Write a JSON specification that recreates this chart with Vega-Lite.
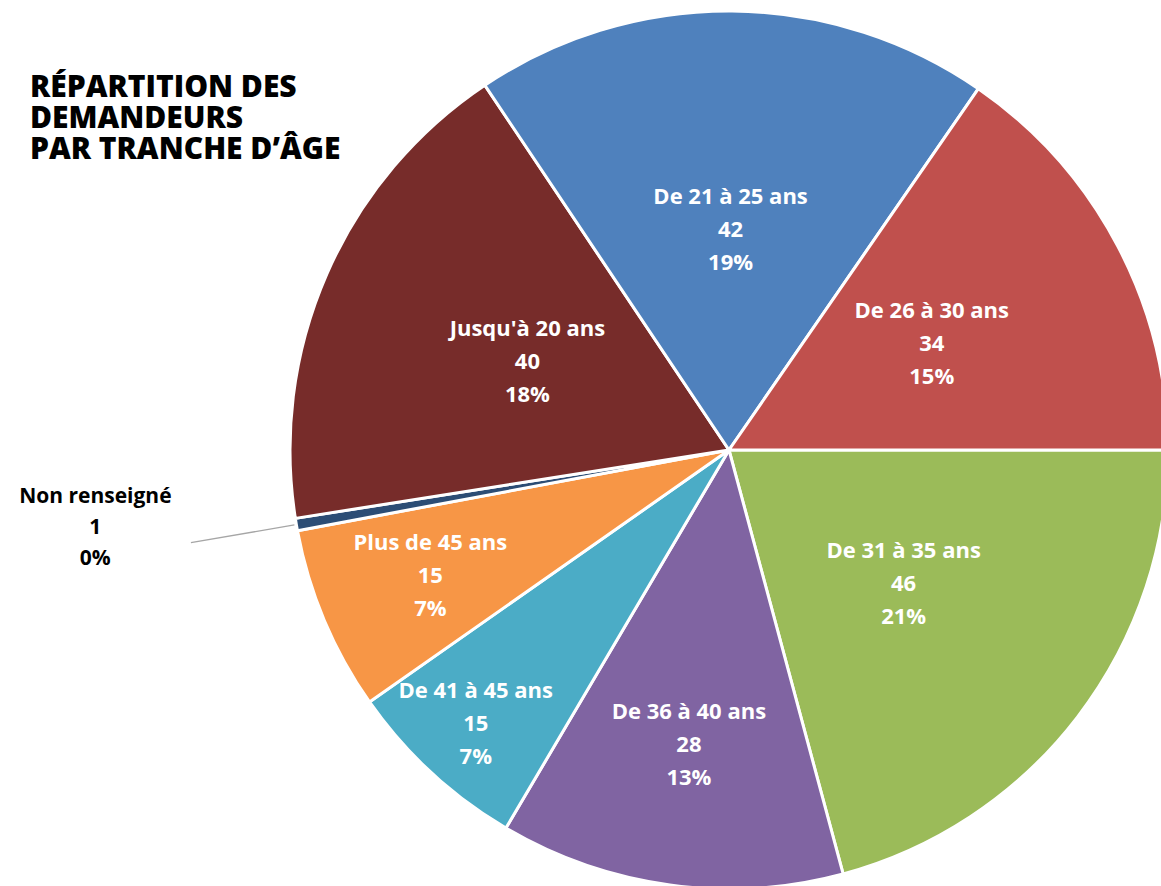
{
  "$schema": "https://vega.github.io/schema/vega-lite/v6.json",
  "width": 1458,
  "height": 900,
  "autosize": {"type": "none"},
  "padding": {"left": 0, "top": 0, "right": -297, "bottom": -14},
  "background": "white",
  "view": {"stroke": null},
  "title": {
    "text": ["RÉPARTITION DES", "DEMANDEURS", "PAR TRANCHE D’ÂGE"],
    "anchor": "start",
    "frame": "group",
    "orient": "top",
    "offset": 0,
    "baseline": "top",
    "dx": 30,
    "dy": 165,
    "font": "Open Sans",
    "fontSize": 30,
    "fontWeight": 800,
    "color": "#000000",
    "lineHeight": 31
  },
  "data": {
    "values": [
      {"tranche": "De 31 à 35 ans", "n": 46},
      {"tranche": "De 36 à 40 ans", "n": 28},
      {"tranche": "De 41 à 45 ans", "n": 15},
      {"tranche": "Plus de 45 ans", "n": 15},
      {"tranche": "Non renseigné", "n": 1},
      {"tranche": "Jusqu'à 20 ans", "n": 40},
      {"tranche": "De 21 à 25 ans", "n": 42},
      {"tranche": "De 26 à 30 ans", "n": 34}
    ]
  },
  "transform": [
    {"window": [{"op": "row_number", "as": "i"}, {"op": "sum", "field": "n", "as": "cum"}], "frame": [null, 0]},
    {"joinaggregate": [{"op": "sum", "field": "n", "as": "total"}]},
    {"calculate": "datum.cum - datum.n", "as": "start"},
    {"calculate": "datum.cum - datum.n / 2", "as": "mid"},
    {"calculate": "datum.tranche + '\\n' + datum.n + '\\n' + format(datum.n / datum.total, '.0%')", "as": "lbl"}
  ],
  "layer": [
    {
      "mark": {"type": "arc", "outerRadius": 439, "stroke": "white", "strokeWidth": 3},
      "encoding": {
        "theta": {"field": "cum", "type": "quantitative", "scale": {"nice": false, "zero": true, "range": [1.5707963, 7.8539816]}},
        "theta2": {"field": "start"},
        "color": {
          "field": "tranche",
          "type": "nominal",
          "legend": null,
          "scale": {
            "domain": ["De 31 à 35 ans", "De 36 à 40 ans", "De 41 à 45 ans", "Plus de 45 ans", "Non renseigné", "Jusqu'à 20 ans", "De 21 à 25 ans", "De 26 à 30 ans"],
            "range": ["#9BBB59", "#8064A2", "#4BACC6", "#F79646", "#2C4D75", "#772C2A", "#4F81BD", "#C0504D"]
          }
        }
      }
    },
    {
      "transform": [{"filter": "datum.tranche === 'Non renseigné'"}],
      "mark": {"type": "arc", "innerRadius": 441, "outerRadius": 546, "fill": null, "stroke": "#A6A6A6", "strokeWidth": 1.3},
      "encoding": {
        "theta": {"field": "mid", "type": "quantitative"},
        "theta2": {"field": "mid"}
      }
    },
    {
      "transform": [
        {"filter": "datum.tranche !== 'Non renseigné'"},
        {"calculate": "datum.tranche === 'De 36 à 40 ans' ? 298 : datum.tranche === 'De 41 à 45 ans' ? 373 : datum.tranche === 'Plus de 45 ans' ? 324 : datum.tranche === 'De 26 à 30 ans' ? 229 : 220", "as": "lr"}
      ],
      "mark": {"type": "text", "fill": "white", "font": "Open Sans", "fontSize": 22, "fontWeight": "bold", "lineHeight": 33, "lineBreak": "\n", "align": "center", "baseline": "middle", "dy": -33},
      "encoding": {
        "theta": {"field": "mid", "type": "quantitative"},
        "radius": {"field": "lr", "type": "quantitative", "scale": null},
        "text": {"field": "lbl", "type": "nominal"}
      }
    },
    {
      "transform": [{"filter": "datum.tranche === 'Non renseigné'"}],
      "mark": {"type": "text", "fill": "black", "font": "Open Sans", "fontSize": 21, "fontWeight": "bold", "lineHeight": 31, "lineBreak": "\n", "align": "center", "baseline": "middle", "dy": -62},
      "encoding": {
        "theta": {"field": "mid", "type": "quantitative"},
        "radius": {"value": 643},
        "text": {"field": "lbl", "type": "nominal"}
      }
    }
  ]
}
